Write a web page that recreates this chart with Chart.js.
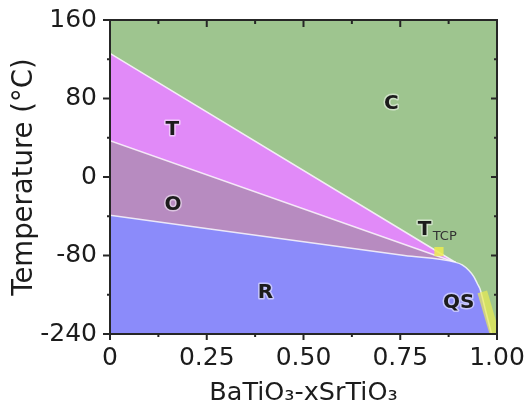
<!DOCTYPE html>
<html>
<head>
<meta charset="utf-8">
<title>BaTiO3-xSrTiO3 phase diagram</title>
<script src="https://cdn.jsdelivr.net/npm/chart.js@4.4.1/dist/chart.umd.min.js"></script>
<style>
  html, body { margin: 0; padding: 0; background: #fff; }
  #wrap { width: 528px; height: 405px; }
</style>
</head>
<body>
<div id="wrap"><canvas id="phase-chart"></canvas></div>
<script>
'use strict';

/* ====== data ====== */
const X_MAJOR = [0, 0.25, 0.5, 0.75, 1];
const X_MINOR = [0.125, 0.375, 0.625, 0.875];
const Y_MAJOR = [-240, -80, 0, 80, 160];
const Y_MINOR = [-160, -40, 40, 120];

// cubic / tetragonal boundary
const CT_X = [0, 0.863, 0.893];
const CT_Y = [126, -80, -94];
// tetragonal / orthorhombic boundary
const TO_X = [0, 0.842, 0.893];
const TO_Y = [37, -80, -94];
// orthorhombic / rhombohedral, then rhombohedral / cubic down to the QS end
const OR_X = [0, 0.761, 0.893, 0.910, 0.927, 0.940, 0.949, 0.956, 0.970, 0.986];
const OR_Y = [-39, -80, -94, -99, -110, -123, -137, -148, -191, -240];
// cubic region spans the whole frame
const C_X = [0, 1];
const C_Y = [160, 160];
// tricritical point and quantum-paraelectric band
const TCP_X = [0.85];
const TCP_Y = [-76];
const QS_X = [0.962, 0.994];
const QS_Y = [-154, -240];

const PHASES = ['C', 'T', 'O', 'R', 'QS'];
const PHASE_X = [0.727, 0.161, 0.163, 0.402, 0.901];
const PHASE_Y = [75, 48, -28, -157, -177];

// y axis below -80 is squeezed 2:1 in the original figure
const Y_BREAK = -80;
const Y_SQUEEZE = 2;

class SqueezedScale extends Chart.LinearScale {
  toLinear(v) { return v >= Y_BREAK ? v : Y_BREAK + (v - Y_BREAK) / Y_SQUEEZE; }
  fromLinear(u) { return u >= Y_BREAK ? u : Y_BREAK + (u - Y_BREAK) * Y_SQUEEZE; }
  getPixelForValue(v) {
    if (v === null || v === undefined) return NaN;
    const lo = this.toLinear(this.min), hi = this.toLinear(this.max);
    return this.getPixelForDecimal((this.toLinear(v) - lo) / (hi - lo));
  }
  getValueForPixel(p) {
    const lo = this.toLinear(this.min), hi = this.toLinear(this.max);
    return this.fromLinear(lo + this.getDecimalForPixel(p) * (hi - lo));
  }
}
SqueezedScale.id = 'squeezed';
SqueezedScale.defaults = Chart.LinearScale.defaults;
Chart.register(SqueezedScale);

const pts = (xs, ys) => xs.map((x, i) => ({ x, y: ys[i] }));

const INK = '#1c1c1c';
const EDGE = 'rgba(255,255,255,0.8)';

// frame + ticks on all four sides (out on left/bottom, in on top/right)
const framePlugin = {
  id: 'frame',
  afterDatasetsDraw(chart) {
    const { ctx, chartArea: a, scales: { x, y } } = chart;
    ctx.save();
    ctx.strokeStyle = '#262626';
    ctx.lineWidth = 2;
    const seg = (x1, y1, x2, y2) => { ctx.beginPath(); ctx.moveTo(x1, y1); ctx.lineTo(x2, y2); ctx.stroke(); };
    X_MAJOR.concat(X_MINOR).forEach(v => {
      const px = x.getPixelForValue(v);
      const major = X_MAJOR.includes(v);
      seg(px, a.bottom, px, a.bottom + (major ? 6 : 3));
      seg(px, a.top, px, a.top + (major ? 7 : 4));
    });
    Y_MAJOR.concat(Y_MINOR).forEach(v => {
      const py = y.getPixelForValue(v);
      const major = Y_MAJOR.includes(v);
      seg(a.left, py, a.left - (major ? 7 : 3), py);
      seg(a.right, py, a.right - (major ? 6 : 3), py);
    });
    ctx.strokeRect(a.left, a.top, a.right - a.left, a.bottom - a.top);

    // phase names
    ctx.font = 'bold 20px "DejaVu Sans"';
    ctx.textAlign = 'center';
    ctx.textBaseline = 'middle';
    ctx.lineJoin = 'round';
    const label = (text, px, py) => {
      ctx.strokeStyle = 'rgba(255,255,255,0.5)';
      ctx.lineWidth = 3;
      ctx.strokeText(text, px, py);
      ctx.fillStyle = INK;
      ctx.fillText(text, px, py);
    };
    PHASES.forEach((p, i) => label(p, x.getPixelForValue(PHASE_X[i]), y.getPixelForValue(PHASE_Y[i])));

    // T with TCP subscript
    const tx = x.getPixelForValue(0.813), ty = y.getPixelForValue(-54);
    label('T', tx, ty);
    ctx.font = '13px "DejaVu Sans"';
    ctx.textAlign = 'left';
    ctx.fillStyle = '#333';
    ctx.fillText('TCP', tx + 8, ty + 7);
    ctx.restore();
  }
};

new Chart(document.getElementById('phase-chart'), {
  type: 'line',
  data: {
    datasets: [
      { data: pts(QS_X, QS_Y), borderColor: 'rgba(236,238,80,0.68)', borderWidth: 10,
        borderCapStyle: 'butt', pointRadius: 0, fill: false },
      { data: pts(TCP_X, TCP_Y), showLine: false, pointStyle: 'rect', pointRadius: 6.5,
        pointBackgroundColor: 'rgba(236,236,80,0.85)', pointBorderWidth: 0 },
      { data: pts(OR_X, OR_Y), borderColor: EDGE, borderWidth: 1.5, backgroundColor: '#8b8bfa',
        fill: 'start', pointRadius: 0, cubicInterpolationMode: 'monotone' },
      { data: pts(TO_X, TO_Y), borderColor: EDGE, borderWidth: 1.5, backgroundColor: '#b78bc0',
        fill: 'start', pointRadius: 0, tension: 0 },
      { data: pts(CT_X, CT_Y), borderColor: EDGE, borderWidth: 1.5, backgroundColor: '#e18af8',
        fill: 'start', pointRadius: 0, tension: 0 },
      { data: pts(C_X, C_Y), borderWidth: 0, backgroundColor: '#9ec58f',
        fill: 'start', pointRadius: 0 }
    ]
  },
  options: {
    responsive: true,
    maintainAspectRatio: false,
    animation: false,
    layout: { padding: { top: 20, right: 31, left: 0, bottom: 0 } },
    plugins: { legend: { display: false }, tooltip: { enabled: false } },
    scales: {
      x: {
        type: 'linear', min: 0, max: 1,
        grid: { display: false, drawTicks: false },
        border: { display: false },
        afterBuildTicks: s => { s.ticks = X_MAJOR.map(value => ({ value })); },
        afterFit: s => { s.height = 71; s.paddingLeft = 0; s.paddingRight = 0; },
        ticks: {
          autoSkip: false, padding: 9, color: INK,
          font: { family: 'DejaVu Sans', size: 25 },
          callback: v => (v === 0 ? '0' : v.toFixed(2))
        },
        title: {
          display: true, text: 'BaTiO₃-xSrTiO₃', color: INK,
          font: { family: 'DejaVu Sans', size: 25.5 }, padding: { top: 0, bottom: -4 }
        }
      },
      y: {
        type: 'squeezed', min: -240, max: 160,
        grid: { display: false, drawTicks: false },
        border: { display: false },
        afterBuildTicks: s => { s.ticks = Y_MAJOR.map(value => ({ value })); },
        afterFit: s => { s.width = 110; s.paddingTop = 0; s.paddingBottom = 0; },
        ticks: {
          autoSkip: false, padding: 13, color: INK,
          font: { family: 'DejaVu Sans', size: 25 },
          callback: v => `${v}`
        },
        title: {
          display: true, text: 'Temperature (°C)', color: INK,
          font: { family: 'DejaVu Sans', size: 27.5 }, padding: { top: 8, bottom: 0 }
        }
      }
    }
  },
  plugins: [framePlugin]
});
</script>
</body>
</html>
